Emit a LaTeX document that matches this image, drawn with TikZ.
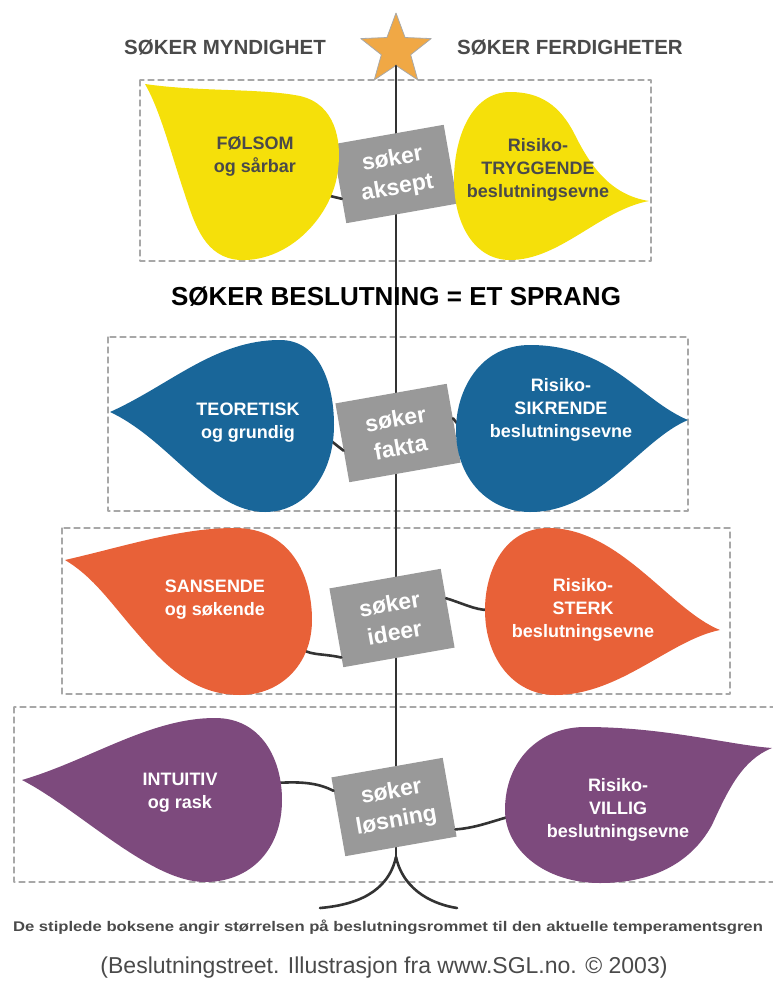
\documentclass[tikz,border=0pt]{standalone}
\usepackage{fontspec}
\setmainfont{Liberation Sans}
\usetikzlibrary{shapes.geometric}

\definecolor{leafyellow}{rgb}{0.96,0.88,0.04}
\definecolor{leafblue}{rgb}{0.10,0.40,0.60}
\definecolor{leaforange}{rgb}{0.91,0.38,0.22}
\definecolor{leafpurple}{rgb}{0.49,0.29,0.49}
\definecolor{tagGray}{rgb}{0.60,0.60,0.60}
\definecolor{zoneGray}{rgb}{0.66,0.66,0.66}
\definecolor{trunkGray}{rgb}{0.20,0.20,0.20}
\definecolor{inkGray}{rgb}{0.29,0.29,0.29}
\definecolor{starOrange}{rgb}{0.94,0.66,0.27}

\tikzset{
  zone/.style={draw=zoneGray,line width=1.2pt,dash pattern=on 6pt off 4pt},
  trunk/.style={draw=trunkGray,line width=2.6pt},
  stem/.style={draw=trunkGray,line width=2.6pt},
  tag/.style={fill=tagGray,text=white,rotate=10,minimum width=113,minimum height=80,
    inner sep=0pt,align=center,font=\bfseries\fontsize{23}{29}\selectfont},
  leaftext/.style={align=center,font=\bfseries\fontsize{18}{23}\selectfont},
  head/.style={text=inkGray,font=\bfseries\fontsize{20.5}{24}\selectfont},
}

\begin{document}
\begin{tikzpicture}[x=1pt,y=-1pt,line cap=round,line join=round]
  \useasboundingbox (0,0) rectangle (773,999);
  % dashed zones
  \draw[zone] (140,80) rectangle (651,261);
  \draw[zone] (108,337) rectangle (688,511);
  \draw[zone] (62,528) rectangle (730,694);
  \draw[zone] (14,707) rectangle (790,882);
  % star and trunk
  \node[star,star points=5,star point ratio=2.4,minimum size=74,inner sep=0pt,
    fill=starOrange,draw=zoneGray,line width=0.8pt] (star) at (396,50) {};
  \coordinate (root) at (396,857);
  \draw[trunk] (star.south) -- (root);
  \draw[trunk] (root) .. controls (388,893) and (355,905) .. (320,908);
  \draw[trunk] (root) .. controls (404,893) and (437,905) .. (457,908);
  % headings
  \node[head] (myndighet) at (225,47) {SØKER MYNDIGHET};
  \node[head] (ferdighet) at (570,47) {SØKER FERDIGHETER};
  \node[font=\bfseries\fontsize{26}{30}\selectfont] (sprang) at (396,297) {SØKER BESLUTNING = ET SPRANG};
  % tags
  \node[tag] (aksept) at (395,174) {søker\\aksept};
  \node[tag] (fakta) at (398,433) {søker\\fakta};
  \node[tag] (ideer) at (392,618) {søker\\ideer};
  \node[tag] (losning) at (394,807) {søker\\løsning};
  % stems
  \coordinate (folsom) at (326,195);
  \coordinate (teoretisk) at (330,440);
  \coordinate (sikrende) at (460,427);
  \coordinate (sansende) at (300,646);
  \coordinate (sterk) at (488,610);
  \coordinate (intuitiv) at (276,783);
  \coordinate (villig) at (508,817);
  \draw[stem] (folsom) -- (aksept.195);
  \draw[stem] (teoretisk) -- (fakta.188);
  \draw[stem] (fakta.5) -- (sikrende);
  \draw[stem] (sansende) .. controls (306,656) and (322,653) .. (ideer.208);
  \draw[stem] (ideer.10) .. controls (462,603) and (475,610) .. (sterk);
  \draw[stem] (intuitiv) .. controls (305,781) and (320,784) .. (losning.155);
  \draw[stem] (losning.330) .. controls (475,828) and (490,822) .. (villig);
  % leaves
  \fill[leafyellow] (145,84) .. controls (200,92) and (260,88) .. (300,96)
    .. controls (335,104) and (342,140) .. (338,170) .. controls (333,215) and (290,262) .. (240,260)
    .. controls (205,258) and (195,225) .. (185,195) .. controls (170,150) and (160,110) .. cycle;
  \fill[leafyellow] (649,201) .. controls (610,195) and (590,165) .. (575,135)
    .. controls (560,105) and (540,92) .. (510,92) .. controls (470,92) and (454,140) .. (454,180)
    .. controls (454,225) and (475,260) .. (510,260) .. controls (560,260) and (600,210) .. cycle;
  \fill[leafblue] (110,412) .. controls (170,385) and (215,340) .. (280,340)
    .. controls (320,340) and (334,385) .. (334,425) .. controls (334,475) and (305,512) .. (265,512)
    .. controls (210,512) and (170,440) .. cycle;
  \fill[leafblue] (688,420) .. controls (640,400) and (610,345) .. (530,345)
    .. controls (480,345) and (456,390) .. (456,430) .. controls (456,480) and (490,512) .. (530,512)
    .. controls (600,512) and (640,440) .. cycle;
  \fill[leaforange] (65,560) .. controls (130,545) and (180,528) .. (235,528)
    .. controls (290,528) and (312,575) .. (312,620) .. controls (312,665) and (280,695) .. (240,695)
    .. controls (190,695) and (160,660) .. (130,625) .. controls (105,595) and (90,575) .. cycle;
  \fill[leaforange] (720,630) .. controls (670,610) and (620,528) .. (548,528)
    .. controls (505,528) and (485,570) .. (485,610) .. controls (485,660) and (515,695) .. (555,695)
    .. controls (620,695) and (670,640) .. cycle;
  \fill[leafpurple] (22,780) .. controls (90,760) and (150,718) .. (215,718)
    .. controls (262,718) and (282,760) .. (282,800) .. controls (282,850) and (250,882) .. (205,882)
    .. controls (150,882) and (80,810) .. cycle;
  \fill[leafpurple] (772,748) .. controls (742,760) and (728,790) .. (712,825)
    .. controls (690,865) and (650,883) .. (600,883) .. controls (545,883) and (505,850) .. (505,810)
    .. controls (505,760) and (540,727) .. (585,727) .. controls (665,727) and (730,745) .. cycle;
  % leaf texts
  \node[leaftext,text=inkGray] (folsomtxt) at (255,156) {FØLSOM\\og sårbar};
  \node[leaftext,text=inkGray] (tryggtxt) at (538,170) {Risiko-\\TRYGGENDE\\beslutningsevne};
  \node[leaftext,text=white] (teortxt) at (248,423) {TEORETISK\\og grundig};
  \node[leaftext,text=white] (sikrtxt) at (561,410) {Risiko-\\SIKRENDE\\beslutningsevne};
  \node[leaftext,text=white] (sanstxt) at (215,600) {SANSENDE\\og søkende};
  \node[leaftext,text=white] (sterktxt) at (583,610) {Risiko-\\STERK\\beslutningsevne};
  \node[leaftext,text=white] (intutxt) at (180,793) {INTUITIV\\og rask};
  \node[leaftext,text=white] (villtxt) at (618,810) {Risiko-\\VILLIG\\beslutningsevne};
  % notes
  \node[text=inkGray,font=\bfseries\fontsize{14}{16}\selectfont] (note) at (388,927)
    {\scalebox{1.19}[1]{De stiplede boksene angir størrelsen på beslutningsrommet til den aktuelle temperamentsgren}};
  \node[text=inkGray,font=\fontsize{23}{26}\selectfont] (credit) at (384,968)
    {(Beslutningstreet. Illustrasjon fra www.SGL.no. © 2003)};
\end{tikzpicture}
\end{document}
